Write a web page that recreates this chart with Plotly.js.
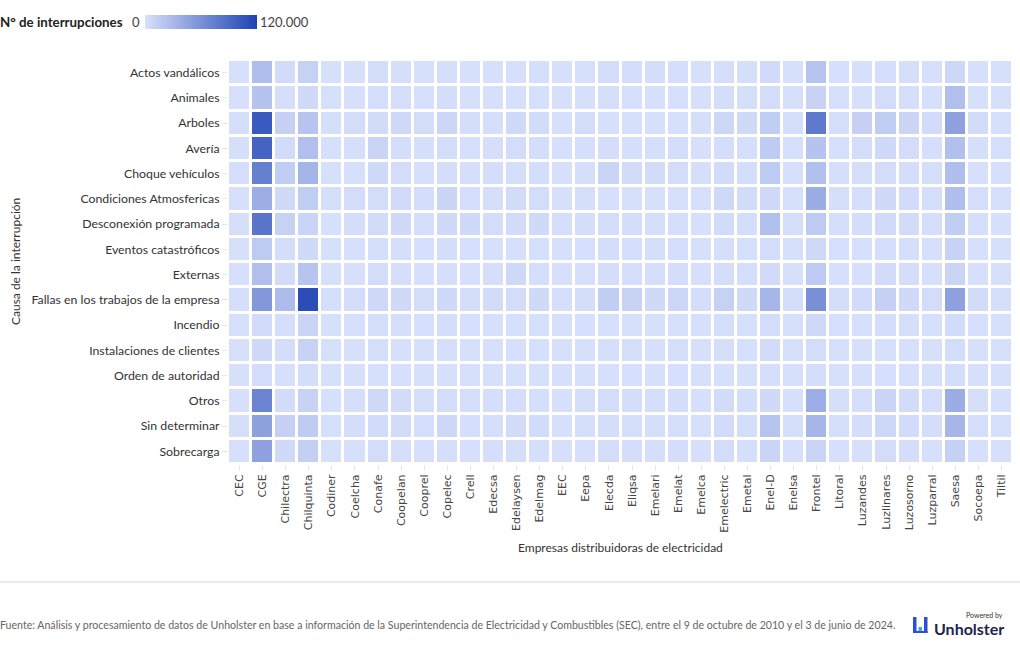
<!DOCTYPE html>
<html>
<head>
<meta charset="utf-8">
<script src="https://cdn.plot.ly/plotly-3.0.1.min.js"></script>
<style>html,body{margin:0;padding:0;background:#fff;}#chart{width:1020px;height:650px;}</style>
</head>
<body>
<div id="chart"></div>
<script>
// Companies (x axis) and causes (y axis)
const empresas = ["CEC","CGE","Chilectra","Chilquinta","Codiner","Coelcha","Conafe","Coopelan","Cooprel","Copelec","Crell","Edecsa","Edelaysen","Edelmag","EEC","Eepa","Elecda","Eliqsa","Emelari","Emelat","Emelca","Emelectric","Emetal","Enel-D","Enelsa","Frontel","Litoral","Luzandes","Luzlinares","Luzosorno","Luzparral","Saesa","Socoepa","Tiltil"];
const causas = ["Actos vandálicos","Animales","Arboles","Avería","Choque vehículos","Condiciones Atmosfericas","Desconexión programada","Eventos catastróficos","Externas","Fallas en los trabajos de la empresa","Incendio","Instalaciones de clientes","Orden de autoridad","Otros","Sin determinar","Sobrecarga"];

// Number of interruptions per cause, in the order of `empresas`
const actosVandalicos = [800,26000,3500,11000,200,300,2500,900,300,1200,200,600,400,1500,300,200,2800,2000,1800,1500,300,1600,900,4000,300,21000,500,200,1200,1000,400,6500,200,300];
const animales = [600,22000,1500,4500,300,500,1200,1100,500,1800,300,400,600,400,200,200,900,700,500,800,300,1800,1000,2500,300,10500,400,300,2500,1500,500,25000,300,200];
const arboles = [1500,102000,12000,21000,1000,2500,3000,6000,2500,7000,2000,1500,5000,3500,800,2500,800,500,300,800,1000,6500,4500,14000,1200,78000,1500,12000,14000,7500,3500,47000,3000,800];
const averia = [1000,95000,3500,25000,500,1200,8500,1800,1000,2500,800,1500,2500,2000,500,1200,2000,1500,1200,1800,500,2000,1500,16000,600,22000,800,2500,5000,2500,1500,24000,1000,500];
const choqueVehiculos = [1200,73000,14000,33000,300,800,5000,2500,600,2000,1000,2000,1000,1800,800,1500,8500,3000,3000,2500,1000,3500,2000,17000,800,24000,1200,1500,2500,2000,1000,26000,800,500];
const condicionesAtm = [800,38000,4500,14000,1000,2500,2500,4000,2000,8000,1500,1000,3000,2500,300,1000,500,300,200,300,600,6000,3000,4500,800,39000,1000,1500,4500,3500,1500,26000,1500,500];
const desconexionProg = [1000,81000,11000,9000,800,2000,3000,4500,1500,5000,5500,2500,3000,4500,1500,2000,2500,2000,1200,1500,800,3500,2000,24000,1000,17000,1500,2000,4000,3000,1500,14000,1200,600];
const eventosCatastroficos = [300,17000,2000,5500,200,600,1500,1200,400,1800,500,800,600,500,200,400,1800,1500,1000,1500,300,1500,800,2500,300,6000,400,400,1500,1200,600,10500,400,200];
const externas = [700,25000,3000,21000,300,800,2500,1500,500,1500,600,1500,6000,1200,400,800,2000,1500,1500,1800,500,2000,1200,4000,500,17000,800,800,3000,2000,800,8500,600,300];
const fallasEmpresa = [1500,55000,27000,112000,1200,2500,6000,5500,2500,5000,2000,3000,2500,5000,1500,2500,14000,10500,5000,7000,2000,11000,4500,32000,2000,61000,2500,3500,12000,5000,2500,47000,3000,1000];
const incendio = [400,3500,1500,8500,300,800,1500,1500,600,2000,600,500,600,500,200,500,400,300,200,300,400,1500,800,2500,300,6000,500,600,1800,1000,600,3500,500,200];
const instalacionesClientes = [300,4500,2000,10500,200,300,1200,800,300,1000,300,800,500,600,300,400,1200,1000,800,1000,300,1000,600,3000,300,2500,500,300,800,600,300,2500,300,200];
const ordenAutoridad = [200,2500,800,2000,100,200,600,400,200,500,200,300,300,300,100,200,600,500,400,500,200,500,300,1500,200,2000,300,200,500,400,200,2000,200,100];
const otros = [800,70000,3000,10500,500,1500,6000,3000,1000,2500,1000,1500,1500,1500,500,1000,2500,2000,1500,2000,800,3000,2000,4500,800,38000,1000,1500,8500,3000,1500,39000,1000,500];
const sinDeterminar = [1000,48000,12000,16000,800,2000,3500,3000,1500,6500,1500,1500,3000,3500,500,1500,2000,1500,1000,1500,800,3500,2000,21000,1000,32000,1500,2000,6500,3500,2000,32000,1500,600];
const sobrecarga = [600,47000,4500,13000,300,800,2500,1500,600,1500,800,1500,1000,1500,400,800,2500,2000,1500,2000,500,2500,1500,8500,500,8500,800,800,2500,2000,800,12000,600,300];

const zRows = [actosVandalicos, animales, arboles, averia, choqueVehiculos, condicionesAtm, desconexionProg, eventosCatastroficos, externas, fallasEmpresa, incendio, instalacionesClientes, ordenAutoridad, otros, sinDeterminar, sobrecarga];

const W = 1020, H = 650;
const M = {l: 228, r: 7, t: 60, b: 186};
const PW = W - M.l - M.r, PH = H - M.t - M.b;
const px = X => (X - M.l) / PW;
const py = Y => (H - M.b - Y) / PH;

const FONT = "Lato, 'Noto Sans', sans-serif";

const trace = {
  type: 'heatmap',
  x: empresas,
  y: causas,
  z: zRows,
  zmin: 0,
  zmax: 120000,
  xgap: 3,
  ygap: 3,
  colorscale: [[0, '#d7e0fb'], [1, '#1e42b4']],
  hoverongaps: false,
  colorbar: {
    orientation: 'h',
    x: px(145), xanchor: 'left',
    y: py(22), yanchor: 'middle',
    lenmode: 'pixels', len: 112,
    thicknessmode: 'pixels', thickness: 14,
    xpad: 0, ypad: 0,
    outlinewidth: 0,
    ticks: '',
    showticklabels: false
  }
};

const layout = {
  width: W, height: H,
  margin: M,
  paper_bgcolor: '#ffffff',
  plot_bgcolor: '#ffffff',
  font: {family: FONT, size: 12, color: '#333333'},
  xaxis: {
    type: 'category',
    tickangle: -90,
    tickfont: {family: "'DejaVu Sans', sans-serif", size: 11, color: '#444444'},
    ticks: 'outside', ticklen: 5, tickcolor: '#e6e6e6',
    showgrid: false, zeroline: false, showline: false,
    fixedrange: true
  },
  yaxis: {
    type: 'category',
    autorange: 'reversed',
    tickfont: {family: FONT, size: 12.3, color: '#333333'},
    ticks: 'outside', ticklen: 5, tickcolor: '#e6e6e6',
    showgrid: false, zeroline: false, showline: false,
    fixedrange: true
  },
  shapes: [
    {type: 'line', xref: 'paper', yref: 'paper', x0: px(0), x1: px(1020), y0: py(582), y1: py(582), line: {color: '#d6d6d6', width: 1}},
    // logo bars
    {type: 'rect', xref: 'paper', yref: 'paper', x0: px(913), x1: px(916.5), y0: py(633), y1: py(617), fillcolor: '#2c4fd6', line: {width: 0}},
    {type: 'rect', xref: 'paper', yref: 'paper', x0: px(918.5), x1: px(922), y0: py(633), y1: py(627), fillcolor: '#3fa7e8', line: {width: 0}},
    {type: 'rect', xref: 'paper', yref: 'paper', x0: px(924), x1: px(927.5), y0: py(633), y1: py(617), fillcolor: '#2c4fd6', line: {width: 0}},
    {type: 'rect', xref: 'paper', yref: 'paper', x0: px(913), x1: px(927.5), y0: py(633), y1: py(631), fillcolor: '#2c4fd6', line: {width: 0}}
  ],
  annotations: [
    {text: '<b>N° de interrupciones</b>', xref: 'paper', yref: 'paper', x: px(-2), y: py(22), xanchor: 'left', yanchor: 'middle', showarrow: false, font: {family: FONT, size: 13.3, color: '#222222'}},
    {text: '0', xref: 'paper', yref: 'paper', x: px(142), y: py(22), xanchor: 'right', yanchor: 'middle', showarrow: false, font: {family: FONT, size: 13, color: '#444444'}},
    {text: '120.000', xref: 'paper', yref: 'paper', x: px(258), y: py(22), xanchor: 'left', yanchor: 'middle', showarrow: false, font: {family: FONT, size: 13, color: '#444444'}},
    {text: 'Causa de la interrupción', xref: 'paper', yref: 'paper', x: px(15), y: py(262), xanchor: 'center', yanchor: 'middle', textangle: -90, showarrow: false, font: {family: FONT, size: 12, color: '#333333'}},
    {text: 'Empresas distribuidoras de electricidad', xref: 'paper', yref: 'paper', x: px(620), y: py(547), xanchor: 'center', yanchor: 'middle', showarrow: false, font: {family: FONT, size: 12, color: '#333333'}},
    {text: 'Fuente: Análisis y procesamiento de datos de Unholster en base a información de la Superintendencia de Electricidad y Combustibles (SEC), entre el 9 de octubre de 2010 y el 3 de junio de 2024.', xref: 'paper', yref: 'paper', x: px(-2), y: py(625), xanchor: 'left', yanchor: 'middle', showarrow: false, font: {family: FONT, size: 10.6, color: '#666666'}},
    {text: 'Powered by', xref: 'paper', yref: 'paper', x: px(1005), y: py(615), xanchor: 'right', yanchor: 'middle', showarrow: false, font: {family: FONT, size: 7, color: '#333333'}},
    {text: '<b>Unholster</b>', xref: 'paper', yref: 'paper', x: px(1006), y: py(628.5), xanchor: 'right', yanchor: 'middle', showarrow: false, font: {family: FONT, size: 16, color: '#1b2550'}}
  ]
};

Plotly.newPlot('chart', [trace], layout, {displayModeBar: false, staticPlot: true});
</script>
</body>
</html>
